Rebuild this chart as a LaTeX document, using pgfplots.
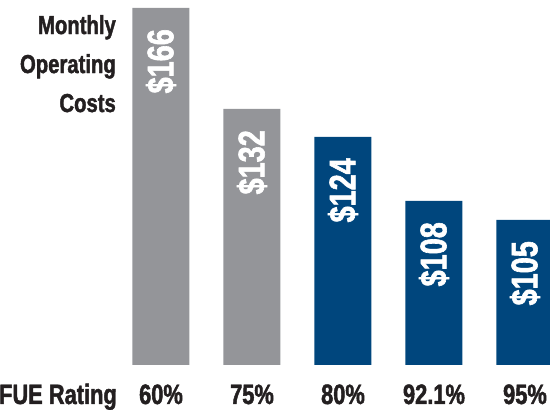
\documentclass[border=0pt]{standalone}
\usepackage{pgfplots}
\pgfplotsset{compat=1.18}
\usepackage{pgfplotstable}
\usepackage{fontspec}
\setmainfont[FakeStretch=0.78, BoldFeatures={FakeBold=1.6}]{Liberation Sans}
\definecolor{bargray}{RGB}{148,149,153}
\definecolor{barblue}{RGB}{0,70,125}
\definecolor{ink}{RGB}{35,31,32}

% bar heights as drawn (px above baseline), label = cost shown
\pgfplotstableread{
x h lab
0 357 166
1 256 132
}\grayrows
\pgfplotstableread{
x h lab
2 228 124
3 164 108
4 145 105
}\bluerows

\begin{document}
\begin{tikzpicture}[x=1pt,y=1pt]
\useasboundingbox (0,-45) rectangle (550,365);
\begin{axis}[
    at={(0,0)}, anchor=south west,
    scale only axis, width=550pt, height=365pt,
    xmin=-1.769, xmax=4.275, ymin=0, ymax=365,
    axis line style={draw=none},
    major tick length=0pt,
    ytick=\empty,
    xtick={0,1,2,3,4},
    xticklabels={60\%,75\%,80\%,92.1\%,95\%},
    xticklabel style={anchor=base, yshift=-39pt, inner sep=0pt,
        font=\bfseries\fontsize{28}{28}\selectfont, text=ink},
    ybar, bar width=57pt, bar shift=0pt,
    point meta=explicit symbolic,
    nodes near coords={\$\pgfplotspointmeta},
    every node near coord/.append style={yshift=-21pt, rotate=90, anchor=east,
        inner sep=0pt, text=white, font=\bfseries\fontsize{37}{37}\selectfont},
]
\addplot[draw=none, fill=bargray] table[x=x, y=h, meta=lab] {\grayrows};
\addplot[draw=none, fill=barblue] table[x=x, y=h, meta=lab] {\bluerows};
\end{axis}
\node[anchor=north east, align=right, inner sep=0pt, text=ink,
    font=\bfseries\fontsize{26}{39}\selectfont] at (116,350) {Monthly\\Operating\\Costs};
\node[anchor=base east, inner sep=0pt, text=ink,
    font=\bfseries\fontsize{28}{28}\selectfont] at (117,-39) {AFUE Rating};
\end{tikzpicture}
\end{document}
